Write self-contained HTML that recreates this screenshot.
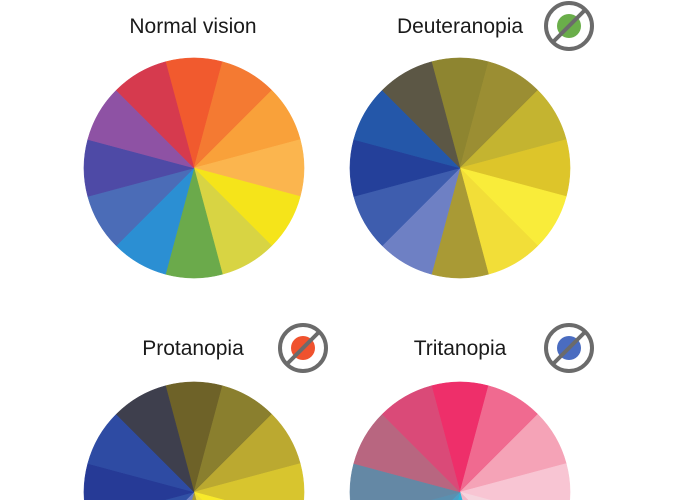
<!DOCTYPE html>
<html><head><meta charset="utf-8"><style>
html,body{margin:0;padding:0;background:#fff;width:680px;height:500px;overflow:hidden;}
svg{display:block;}
text{font-family:"Liberation Sans",sans-serif;font-size:21px;fill:#1a1a1a;}
</style></head><body>
<svg id="chart" width="680" height="500" viewBox="0 0 680 500" xmlns="http://www.w3.org/2000/svg" style="overflow:hidden">
<text x="193" y="33" text-anchor="middle">Normal vision</text>
<text x="460" y="33" text-anchor="middle">Deuteranopia</text>
<text x="193" y="355" text-anchor="middle">Protanopia</text>
<text x="460" y="355" text-anchor="middle">Tritanopia</text>
</svg>
<script>
const wheelNames = ['normal-wheel','deuteranopia-wheel','protanopia-wheel','tritanopia-wheel'];
const sliceValues = [1,1,1,1,1,1,1,1,1,1,1,1];
const normalColors = ['#F15A2E','#F47A32','#F9A13A','#FBB54E','#F5E41A','#D8D443','#6BAA4B','#2B8FD3','#4B6CB7','#4E4AA6','#8E52A4','#D63A4E'];
const deuterColors = ['#8E8530','#9B8E33','#C4B430','#DDC52A','#F9EC3A','#F2DE38','#A99A35','#6E80C4','#3E5DAE','#24409A','#2457A9','#5C5745'];
const protanColors = ['#6E6228','#8A7F2E','#BBA930','#D8C52E','#F8EA2A','#EFDD3A','#A99A35','#6E80C4','#3050A5','#263A96','#2E4BA3','#3E3F4D'];
const tritanColors = ['#EE2F6A','#F06A90','#F5A3B7','#F8C5D3','#F5D5DE','#F0B8C8','#30B5D8','#4AA0C8','#5A90B0','#6488A5','#B86680','#DA4A78'];
const svg = document.getElementById('chart');
const NS = 'http://www.w3.org/2000/svg';
const wheels = [
  {cx:194,cy:168,r:110,colors:normalColors},
  {cx:460,cy:168,r:110,colors:deuterColors},
  {cx:194,cy:492,r:110,colors:protanColors},
  {cx:460,cy:492,r:110,colors:tritanColors}
];
const total = sliceValues.reduce((a,b)=>a+b,0);
wheels.forEach((w,wi)=>{
  const g = document.createElementNS(NS,'g');
  
  
  let acc = -sliceValues[0]/2;
  sliceValues.forEach((v,i)=>{
    const a0 = acc/total*2*Math.PI, a1=(acc+v)/total*2*Math.PI;
    acc += v;
    const x0=w.cx+w.r*Math.sin(a0), y0=w.cy-w.r*Math.cos(a0);
    const x1=w.cx+w.r*Math.sin(a1), y1=w.cy-w.r*Math.cos(a1);
    const p = document.createElementNS(NS,'path');
    p.setAttribute('d',`M${w.cx},${w.cy}L${x0},${y0}A${w.r},${w.r} 0 0 1 ${x1},${y1}Z`);
    p.setAttribute('fill',w.colors[i]);
    p.setAttribute('stroke',w.colors[i]);
    p.setAttribute('stroke-width','0.5');
    
    
    g.appendChild(p);
  });
  svg.insertBefore(g, svg.firstChild);
});
const iconNames = ['deuteranopia-icon','protanopia-icon','tritanopia-icon'];
const icons = [{x:569,y:26,c:'#6AAE4A'},{x:303,y:348,c:'#F0522E'},{x:569,y:348,c:'#4A6CC0'}];
icons.forEach((ic,i)=>{
  const g = document.createElementNS(NS,'g');
  
  
  g.innerHTML = `<circle cx="${ic.x}" cy="${ic.y}" r="12" fill="${ic.c}"/>
  <circle cx="${ic.x}" cy="${ic.y}" r="23" fill="none" stroke="#6B6B6B" stroke-width="4"/>
  <line x1="${ic.x+16}" y1="${ic.y-16}" x2="${ic.x-16}" y2="${ic.y+16}" stroke="#6B6B6B" stroke-width="4"/>`;
  svg.appendChild(g);
});
</script>
</body></html>
